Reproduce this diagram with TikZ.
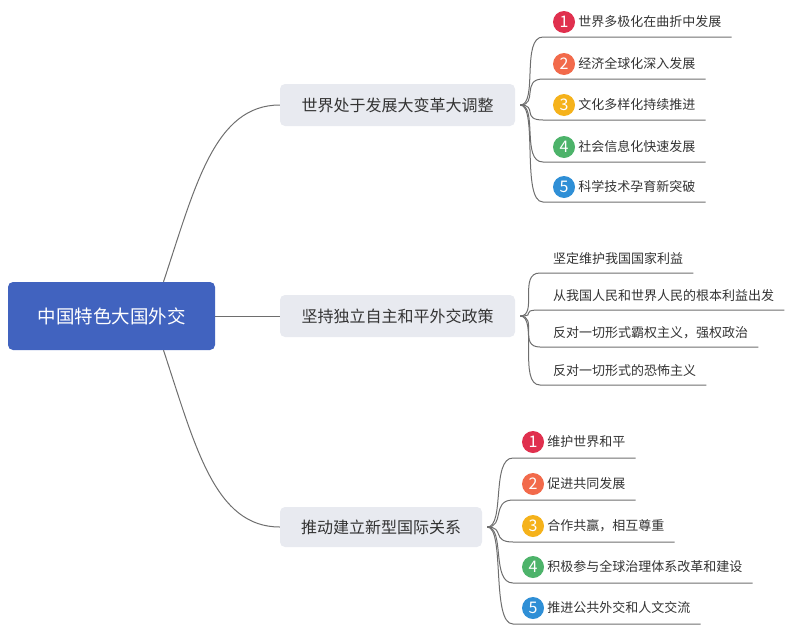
\documentclass[tikz,border=0pt]{standalone}
\usepackage{fontspec}
\setmainfont{Noto Sans CJK SC}
\usetikzlibrary{positioning}
\definecolor{rootblue}{HTML}{4163BF}
\definecolor{topicgray}{HTML}{E8EAF0}
\definecolor{linegray}{HTML}{6E6E6E}
\definecolor{textgray}{HTML}{333333}
\definecolor{redone}{HTML}{E0304E}
\definecolor{orangetwo}{HTML}{F26A4B}
\definecolor{yellowthree}{HTML}{F5B21B}
\definecolor{greenfour}{HTML}{4DB36A}
\definecolor{bluefive}{HTML}{2F8FD6}
\tikzset{
    root/.style={fill=rootblue, text=white, rounded corners=5pt, minimum width=207pt,
        minimum height=68pt, font=\fontsize{18.5}{18.5}\selectfont},
    topic/.style={fill=topicgray, text=textgray, rounded corners=5pt, minimum height=42pt,
        font=\fontsize{16}{16}\selectfont},
    leaf/.style={anchor=west, inner sep=0pt, text=textgray, font=\fontsize{13}{13}\selectfont},
    badge/.style={circle, fill=#1, text=white, minimum size=22pt, inner sep=0pt,
        font=\fontsize{16}{16}\selectfont},
    link/.style={draw=linegray, line width=1pt},
}
\begin{document}
\begin{tikzpicture}[x=1pt,y=-1pt]
        \useasboundingbox (0,0) rectangle (800,632);
        % Root and topics
        \node[root] (root) at (111.5,316) {中国特色大国外交};
        \node[topic, minimum width=235pt] (world) at (397.5,105) {世界处于发展大变革大调整};
        \node[topic, minimum width=235pt] (policy) at (397.5,316) {坚持独立自主和平外交政策};
        \node[topic, minimum width=202pt, minimum height=40pt] (order) at (381,527) {推动建立新型国际关系};
        \coordinate (rootup) at ([xshift=52pt]root.north);
        \coordinate (rootdown) at ([xshift=52pt]root.south);
        \draw[link] (rootup) .. controls +(32,-97) and +(-65,0) .. (world.west);
        \draw[link] (root.east) -- (policy.west);
        \draw[link] (rootdown) .. controls +(32,97) and +(-65,0) .. (order.west);
        % World trends
        \begin{scope}
            \coordinate (fw) at ([xshift=5pt]world.east);
            \foreach \i/\y/\c/\t in {1/37/redone/世界多极化在曲折中发展,2/79/orangetwo/经济全球化深入发展,
                3/120/yellowthree/文化多样化持续推进,4/162/greenfour/社会信息化快速发展,5/202/bluefive/科学技术孕育新突破}{
                \coordinate (wu\i) at (543,\y);
                \node[badge=\c] (wb\i) at ([shift={(21,-15)}]wu\i) {\i};
                \node[leaf, right=3pt of wb\i] (wl\i) {\t};
                \draw[link] (fw) .. controls +(18,0) and +(-22,0) .. (wu\i) -- ([xshift=10pt]wl\i.east |- wu\i);
            }
        \end{scope}
        % Foreign policy
        \begin{scope}
            \coordinate (fp) at ([xshift=5pt]policy.east);
            \foreach \i/\y/\t in {1/273/坚定维护我国国家利益,2/310/从我国人民和世界人民的根本利益出发,
                3/347/反对一切形式霸权主义，强权政治,4/385/反对一切形式的恐怖主义}{
                \coordinate (pu\i) at (540,\y);
                \node[leaf] (pl\i) at ([shift={(13,-14)}]pu\i) {\t};
                \draw[link] (fp) .. controls +(18,0) and +(-22,0) .. (pu\i) -- ([xshift=10pt]pl\i.east |- pu\i);
            }
        \end{scope}
        % New relations
        \begin{scope}
            \coordinate (fo) at ([xshift=5pt]order.east);
            \foreach \i/\y/\c/\t in {1/458/redone/维护世界和平,2/500/orangetwo/促进共同发展,
                3/542/yellowthree/合作共赢，相互尊重,4/583/greenfour/积极参与全球治理体系改革和建设,5/624/bluefive/推进公共外交和人文交流}{
                \coordinate (ou\i) at (513,\y);
                \node[badge=\c] (ob\i) at ([shift={(20,-16)}]ou\i) {\i};
                \node[leaf, right=3pt of ob\i] (ol\i) {\t};
                \draw[link] (fo) .. controls +(18,0) and +(-22,0) .. (ou\i) -- ([xshift=10pt]ol\i.east |- ou\i);
            }
        \end{scope}
    \end{tikzpicture}
\end{document}
